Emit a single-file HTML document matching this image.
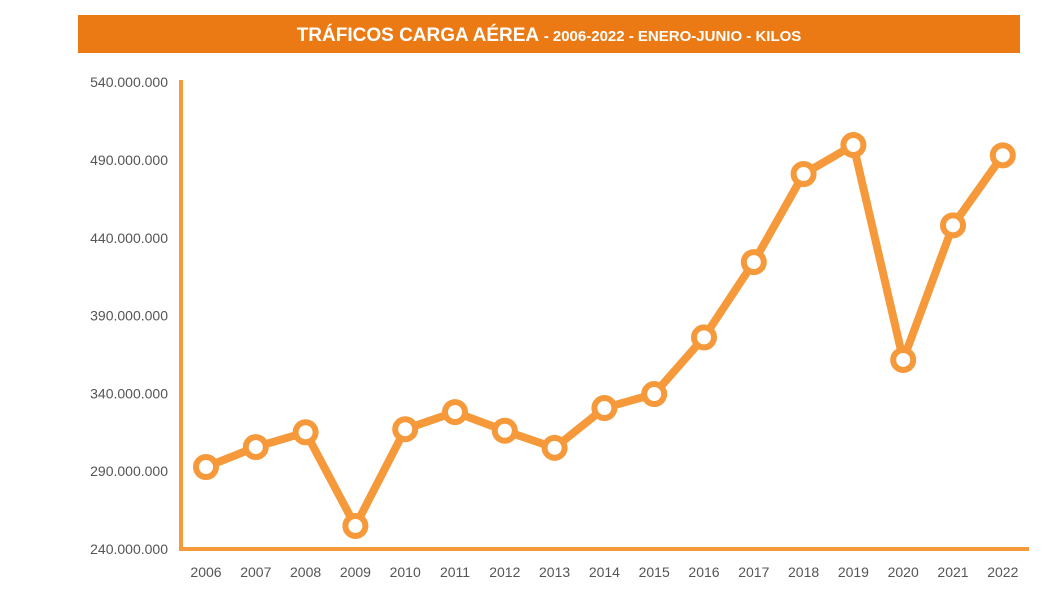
<!DOCTYPE html>
<html><head><meta charset="utf-8"><style>
body{margin:0;background:#fff;width:1061px;height:597px;overflow:hidden;font-family:"Liberation Sans",sans-serif}
</style></head><body>
<svg width="1061" height="597">
<rect x="78" y="15" width="942" height="38" fill="#EC7A14"/>
<text x="549" y="41" text-anchor="middle" fill="#fff" font-weight="bold" font-size="19">TRÁFICOS CARGA AÉREA <tspan font-size="15"> - 2006-2022 - ENERO-JUNIO - KILOS</tspan></text>
<g id="axes"></g>
<g id="marks"></g>
</svg>
<script>
const years=["2006","2007","2008","2009","2010","2011","2012","2013","2014","2015","2016","2017","2018","2019","2020","2021","2022"];
const values=[292.7,305.5,315,254.8,317,328,316,305,330.6,339.6,376,424.4,481,499.6,361.5,448,493];
const yTicks=[240,290,340,390,440,490,540];
const NS="http://www.w3.org/2000/svg";
const x=i=>206+i*49.8;
const y=v=>549-(v-240)*1.556;
function mk(t,a,p){const e=document.createElementNS(NS,t);for(const k in a)e.setAttribute(k,a[k]);p.appendChild(e);return e;}
const ax=document.getElementById('axes'),mg=document.getElementById('marks');
const yl=mk('line',{x1:181,y1:80,x2:181,y2:551,stroke:'#F5993A','stroke-width':4},ax);


const xl=mk('line',{x1:179,y1:549,x2:1029,y2:549,stroke:'#F5993A','stroke-width':4},ax);


yTicks.forEach(v=>{const t=mk('text',{x:168,y:y(v)+5,'text-anchor':'end','font-size':14,fill:'#555'},ax);
t.textContent=v+".000.000";

});
years.forEach((yr,i)=>{const t=mk('text',{x:x(i),y:577,'text-anchor':'middle','font-size':14,fill:'#555'},ax);
t.textContent=yr;

});
const pl=mk('polyline',{points:values.map((v,i)=>x(i)+','+y(v)).join(' '),fill:'none',stroke:'#F5993A','stroke-width':8,'stroke-linejoin':'round'},mg);


values.forEach((v,i)=>{const c=mk('circle',{cx:x(i),cy:y(v),r:10,fill:'#fff',stroke:'#F5993A','stroke-width':6},mg);

});
</script>
</body></html>
